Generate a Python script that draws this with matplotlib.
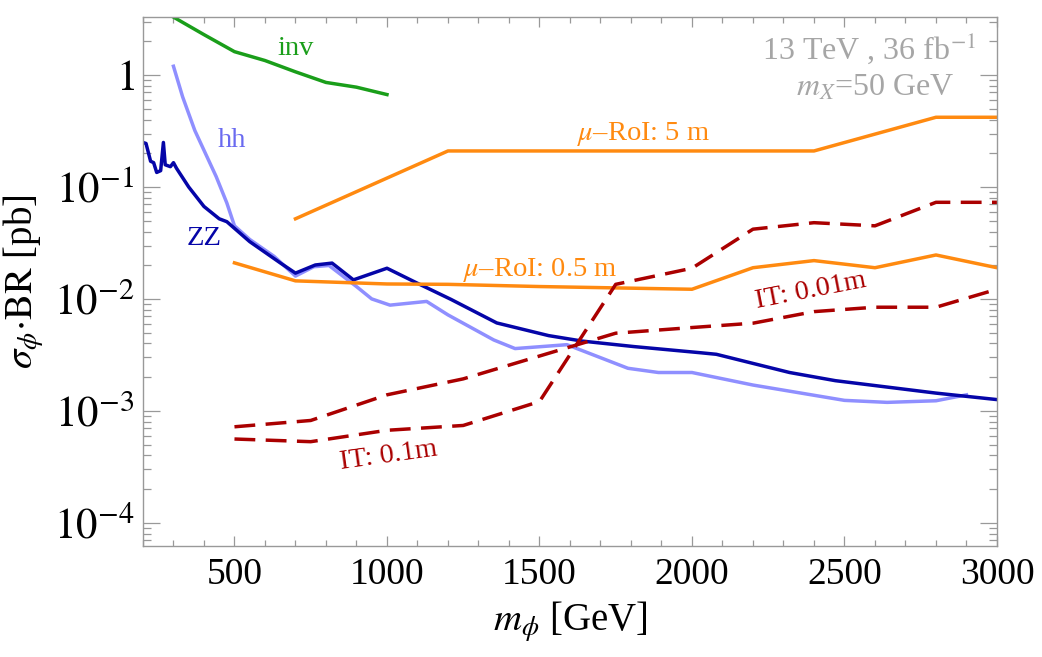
import matplotlib
matplotlib.use("Agg")
import matplotlib.pyplot as plt
from matplotlib.ticker import FixedLocator, NullFormatter

plt.rcParams['font.family'] = ['Liberation Serif', 'DejaVu Serif']
plt.rcParams['mathtext.fontset'] = 'stix'

# ---------------- data ----------------
inv_x = [300, 400, 500, 600, 700, 800, 900, 1000]
inv_y = [3.3, 2.3, 1.62, 1.35, 1.07, 0.86, 0.78, 0.67]

hh_x = [300, 330, 370, 440, 475, 500, 550, 630, 700, 760, 810, 900, 950, 1010,
        1130, 1200, 1350, 1420, 1590, 1790, 1890, 2000, 2200, 2500, 2640, 2800, 2900]
hh_y = [1.2, 0.64, 0.32, 0.124, 0.072, 0.045, 0.034, 0.024, 0.016, 0.0194, 0.0199,
        0.0129, 0.0100, 0.0088, 0.0095, 0.0072, 0.0043, 0.0036, 0.0039, 0.0024,
        0.0022, 0.0022, 0.0017, 0.00124, 0.00119, 0.00123, 0.00139]

zz_x = [200, 210, 225, 235, 245, 258, 267, 273, 290, 300, 310, 350, 400, 450, 475,
        550, 650, 700, 765, 820, 890, 1000, 1100, 1210, 1360, 1530, 1640, 1810,
        2030, 2080, 2320, 2470, 2800, 3000]
zz_y = [0.25, 0.245, 0.17, 0.165, 0.135, 0.14, 0.25, 0.158, 0.152, 0.165, 0.147,
        0.1, 0.067, 0.052, 0.049, 0.0325, 0.021, 0.017, 0.0201, 0.0209, 0.0148,
        0.0188, 0.0138, 0.0099, 0.0061, 0.0047, 0.0042, 0.00375, 0.0033, 0.0032,
        0.0022, 0.00186, 0.00144, 0.00126]

roi5_x = [700, 1200, 2400, 2800, 3000]
roi5_y = [0.052, 0.21, 0.21, 0.42, 0.42]

roi05_x = [500, 700, 1000, 1200, 1500, 2000, 2200, 2400, 2600, 2800, 3000]
roi05_y = [0.021, 0.0145, 0.0136, 0.0135, 0.0129, 0.0122, 0.019, 0.022, 0.019, 0.0247, 0.019]

it01_x = [500, 750, 1000, 1250, 1500, 1750, 2000, 2200, 2400, 2600, 2800, 3000]
it01_y = [0.00056, 0.00053, 0.00067, 0.00074, 0.00121, 0.0135, 0.0188, 0.042,
          0.048, 0.045, 0.073, 0.073]

it001_x = [500, 750, 1000, 1250, 1750, 2000, 2200, 2400, 2600, 2800, 3000]
it001_y = [0.00072, 0.00082, 0.00139, 0.00193, 0.00494, 0.00555, 0.00607,
           0.0077, 0.00843, 0.00843, 0.0122]

x_major = [500, 1000, 1500, 2000, 2500, 3000]
x_labels = ['500', '1000', '1500', '2000', '2500', '3000']
y_major = [1e-4, 1e-3, 1e-2, 1e-1, 1]
y_labels = [r'$10^{-4}$', r'$10^{-3}$', r'$10^{-2}$', r'$10^{-1}$', r'$1$']

# ---------------- colors ----------------
c_inv = '#1a9e1a'
c_hh = '#8f8fff'
c_hh_txt = '#6a6af0'
c_zz = '#0505a8'
c_or = '#ff8a10'
c_red = '#aa0000'
c_gray = '#a6a6a6'

fig = plt.figure(figsize=(10.42, 6.57), dpi=100)
ax = fig.add_axes([0.1372, 0.169, 0.8196, 0.805])

lw = 2.5
ax.plot(inv_x, inv_y, color=c_inv, lw=lw)
ax.plot(hh_x, hh_y, color=c_hh, lw=lw)
ax.plot(zz_x, zz_y, color=c_zz, lw=lw)
ax.plot(roi5_x, roi5_y, color=c_or, lw=lw)
ax.plot(roi05_x, roi05_y, color=c_or, lw=lw)
ax.plot(it01_x, it01_y, color=c_red, lw=lw, ls=(0, (6, 3)))
ax.plot(it001_x, it001_y, color=c_red, lw=lw, ls=(0, (6, 3)))

ax.set_yscale('log')
ax.set_xlim(200, 3000)
ax.set_ylim(6.2e-5, 3.3)

ax.xaxis.set_major_locator(FixedLocator(x_major))
ax.set_xticklabels(x_labels)
ax.xaxis.set_minor_locator(FixedLocator(list(range(200, 3001, 100))))
ax.yaxis.set_major_locator(FixedLocator(y_major))
ax.set_yticklabels(y_labels)
minors = [m * 10.0 ** e for e in range(-5, 1) for m in range(2, 10)]
ax.yaxis.set_minor_locator(FixedLocator(minors))
ax.yaxis.set_minor_formatter(NullFormatter())

for s in ax.spines.values():
    s.set_color('#999999')
    s.set_linewidth(1.0)
ax.tick_params(which='both', direction='in', top=True, right=True, color='#999999',
               width=0.9)
ax.tick_params(axis='x', labelsize=27)
ax.tick_params(axis='y', labelsize=31)
ax.tick_params(axis='y', which='major', length=12, pad=6)
ax.tick_params(axis='y', which='minor', length=6)
ax.tick_params(axis='x', which='major', length=7, pad=8)
ax.tick_params(axis='x', which='minor', length=4)

ax.set_xlabel(r'$m_\phi$ [GeV]', fontsize=28, labelpad=6)
ax.set_ylabel(r'$\sigma_\phi{\cdot}\mathrm{BR}$ [pb]', fontsize=28, labelpad=6)

fs = 20.5
ax.text(700, 1.74, 'inv', color=c_inv, fontsize=fs, ha='center', va='center')
ax.text(491, 0.263, 'hh', color=c_hh_txt, fontsize=fs, ha='center', va='center')
ax.text(399, 0.035, 'ZZ', color=c_zz, fontsize=fs, ha='center', va='center')
ax.text(1840, 0.30, r'$\mu$–RoI: 5 m', color=c_or, fontsize=fs, ha='center', va='center')
ax.text(1501, 0.018, r'$\mu$–RoI: 0.5 m', color=c_or, fontsize=fs, ha='center', va='center')
ax.text(2389, 0.0118, 'IT: 0.01m', color=c_red, fontsize=fs, ha='center', va='center',
        rotation=11, rotation_mode='anchor')
ax.text(1007, 0.00040, 'IT: 0.1m', color=c_red, fontsize=fs, ha='center', va='center',
        rotation=8, rotation_mode='anchor')

ax.text(0.975, 0.975, r'13 TeV , 36 fb$^{-1}$', transform=ax.transAxes, color=c_gray,
        fontsize=23, ha='right', va='top')
ax.text(0.95, 0.893, r'$m_X$=50 GeV', transform=ax.transAxes, color=c_gray,
        fontsize=23, ha='right', va='top')

fig.savefig('out.png', dpi=100)
